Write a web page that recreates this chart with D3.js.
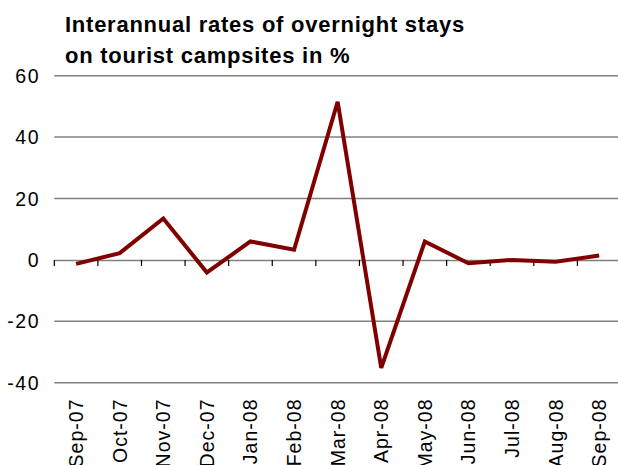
<!DOCTYPE html>
<html>
<head>
<meta charset="utf-8">
<script src="https://cdn.jsdelivr.net/npm/d3@7/dist/d3.min.js"></script>
<style>
  html, body { margin: 0; padding: 0; background: #fff; }
  svg { display: block; }
  text { font-family: "Liberation Sans", Arial, sans-serif; }
</style>
</head>
<body>
<svg id="chart" width="618" height="465"></svg>
<script>
const categories = ["Sep-07","Oct-07","Nov-07","Dec-07","Jan-08","Feb-08","Mar-08","Apr-08","May-08","Jun-08","Jul-08","Aug-08","Sep-08"];
const values = [-1.3, 2.2, 13.5, -4.1, 6.0, 3.3, 51.5, -35.2, 6.0, -1.1, 0.0, -0.6, 1.4];
const yTicks = [60, 40, 20, 0, -20, -40];
const titleLines = ["Interannual rates of overnight stays", "on tourist campsites in %"];

const svg = d3.select("#chart");
const x = d3.scaleBand().domain(categories).range([54.3, 621]).padding(0);
const y = d3.scaleLinear().domain([-40, 60]).range([382.7, 75.7]);

// gridlines
svg.append("g").selectAll("line").data(yTicks.filter(d => d !== 0)).join("line")
  .attr("x1", 54.3).attr("x2", 621)
  .attr("y1", d => y(d)).attr("y2", d => y(d))
  .attr("stroke", "#808080").attr("stroke-width", 1.5);

// y labels
svg.append("g").selectAll("text").data(yTicks).join("text")
  .attr("x", 40).attr("y", d => y(d)).attr("dy", "0.36em")
  .attr("text-anchor", "end").attr("font-size", 19.5).attr("fill", "#000")
  .attr("letter-spacing", 1.5)
  .text(d => d);

// zero axis with ticks
const axisG = svg.append("g").attr("transform", `translate(0,${y(0)})`)
  .call(d3.axisBottom(x).tickSize(0).tickFormat(""));
axisG.select(".domain").attr("stroke", "#808080").attr("stroke-width", 1.5);
const tickPos = categories.map(c => x(c)).concat([x.range()[1]]);
axisG.append("g").selectAll("line").data(tickPos).join("line")
  .attr("x1", d => d).attr("x2", d => d).attr("y1", 0).attr("y2", 6)
  .attr("stroke", "#000").attr("stroke-width", 1.2);

// category labels (the reference also cuts them at the bottom edge)
svg.append("g").selectAll("text").data(categories).join("text")
  .attr("transform", d => `translate(${x(d) + x.bandwidth() / 2},398.5) rotate(-90)`)
  .attr("dy", "0.36em").attr("text-anchor", "end")
  .attr("font-size", 19.5).attr("fill", "#000")
  .attr("letter-spacing", 1.0)
  .text(d => d);

// line
const line = d3.line().x((d, i) => x(categories[i]) + x.bandwidth() / 2).y(d => y(d));
svg.append("path").datum(values).attr("d", line)
  .attr("fill", "none").attr("stroke", "#800000").attr("stroke-width", 4)
  .attr("stroke-linejoin", "miter");

// title
svg.append("g").selectAll("text").data(titleLines).join("text")
  .attr("x", 65).attr("y", (d, i) => 31.7 + i * 31.6)
  .attr("font-size", 22).attr("font-weight", "bold").attr("fill", "#000")
  .attr("letter-spacing", 0.75)
  .text(d => d);
</script>
</body>
</html>
